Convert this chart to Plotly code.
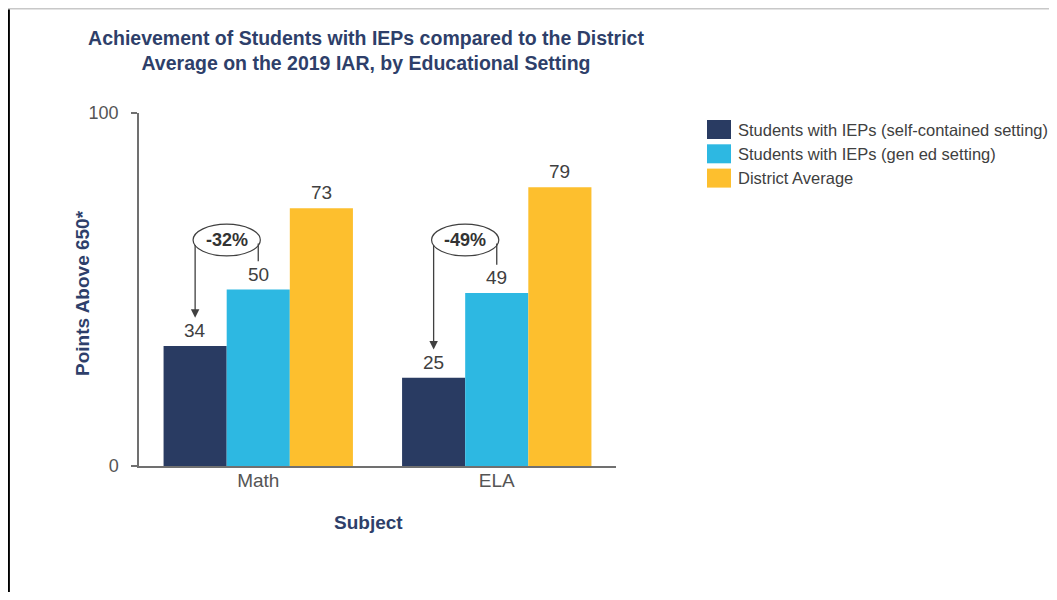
import plotly.graph_objects as go

categories = ["Math", "ELA"]
series_names = [
    "Students with IEPs (self-contained setting)",
    "Students with IEPs (gen ed setting)",
    "District Average",
]
self_contained = [34, 25]
gen_ed = [50, 49]
district_avg = [73, 79]
colors = ["#293b62", "#2db8e2", "#fdbf2e"]
y_ticks = [0, 100]

# page offset of the plot div (default body margin)
OFF = 8
W, H = 1057 - 2 * OFF, 600 - 2 * OFF
# plot area in screen pixels
PX0, PX1, PY0, PY1 = 139, 616, 113, 466
PW, PH = PX1 - PX0, PY1 - PY0
L, T = PX0 - OFF, PY0 - OFF
R, B = W - L - PW, H - T - PH

def px(sx):
    return (sx - PX0) / PW

def py(sy):
    return (PY1 - sy) / PH

FONT = "Liberation Sans, Arial, sans-serif"
NAVY = "#2e3f6a"
GRAY = "#555555"
DARK = "#404040"

bargap = 0.206
bw = (1 - bargap) / 3
offsets = [-bw, 0, bw]
series = [self_contained, gen_ed, district_avg]
xs = list(range(len(categories)))

fig = go.Figure()
for name, vals, col in zip(series_names, series, colors):
    fig.add_trace(go.Bar(x=xs, y=vals, name=name, marker=dict(color=col, line=dict(width=0)),
                         showlegend=False))

annotations = []
shapes = []

# value labels
for vals, off in zip(series, offsets):
    for xi, v in zip(xs, vals):
        annotations.append(dict(x=xi + off, y=v, xref="x", yref="y", text=str(v), showarrow=False,
                                xanchor="center", yanchor="bottom", yshift=3,
                                font=dict(family=FONT, size=19, color=DARK)))

# difference callouts
ANN_Y = 64
for xi, a, b in zip(xs, self_contained, gen_ed):
    pct = round((a - b) / b * 100)
    xl = xi + offsets[0]
    xr = xi + offsets[1]
    xc = (xl + xr) / 2
    shapes.append(dict(type="circle", xref="x", yref="y", x0=xc - 0.141, x1=xc + 0.141,
                       y0=ANN_Y - 4.5, y1=ANN_Y + 4.5, line=dict(color=DARK, width=1.2),
                       fillcolor="rgba(0,0,0,0)", layer="above"))
    annotations.append(dict(x=xc, y=ANN_Y, xref="x", yref="y", text=f"<b>{pct}%</b>", showarrow=False,
                            xanchor="center", yanchor="middle",
                            font=dict(family=FONT, size=18, color="#333333")))
    shapes.append(dict(type="line", xref="x", yref="y", x0=xr, x1=xr, y0=ANN_Y - 1, y1=b + 8,
                       line=dict(color=DARK, width=1.3)))
    annotations.append(dict(x=xl, y=a + 8, ax=xl, ay=ANN_Y - 1, xref="x", yref="y", axref="x", ayref="y",
                            text="", showarrow=True, arrowhead=2, arrowsize=1.3, arrowwidth=1.3,
                            arrowcolor=DARK))

# axis titles
annotations.append(dict(x=px(82), y=py(293), xref="paper", yref="paper", text="<b>Points Above 650*</b>",
                        textangle=-90, showarrow=False, xanchor="center", yanchor="middle",
                        font=dict(family=FONT, size=19, color=NAVY)))
annotations.append(dict(x=px(368), y=py(522), xref="paper", yref="paper", text="<b>Subject</b>",
                        showarrow=False, xanchor="center", yanchor="middle",
                        font=dict(family=FONT, size=19, color=NAVY)))

# legend
for i, (name, col) in enumerate(zip(series_names, colors)):
    cy = 129.5 + i * 24.3
    shapes.append(dict(type="rect", xref="paper", yref="paper",
                       x0=px(707), x1=px(731), y0=py(cy + 9.5), y1=py(cy - 9.5),
                       fillcolor=col, line=dict(width=0)))
    annotations.append(dict(x=px(736), y=py(cy), xref="paper", yref="paper", text=name,
                            xanchor="left", yanchor="middle", showarrow=False,
                            font=dict(family=FONT, size=16.5, color=DARK)))

# frame lines
shapes.append(dict(type="line", xref="paper", yref="paper", x0=px(8.9), x1=px(8.9),
                   y0=py(8), y1=py(600), line=dict(color="#000000", width=2)))
shapes.append(dict(type="line", xref="paper", yref="paper", x0=px(8), x1=px(1056),
                   y0=py(8.7), y1=py(8.7), line=dict(color="#c8c8c8", width=1.5)))

fig.update_layout(
    width=W, height=H,
    margin=dict(l=L, r=R, t=T, b=B),
    paper_bgcolor="white", plot_bgcolor="white",
    barmode="group", bargap=bargap, bargroupgap=0,
    title=dict(text="<b>Achievement of Students with IEPs compared to the District<br>Average on the 2019 IAR, by Educational Setting</b>",
               x=(366 - OFF) / W, xref="container", xanchor="center",
               y=1 - (45 - OFF) / H, yref="container", yanchor="middle",
               font=dict(family=FONT, size=19.5, color=NAVY)),
    xaxis=dict(range=[-0.5, 1.5], tickvals=xs, ticktext=categories, showline=True, linecolor="#707070",
               linewidth=2, ticks="", showgrid=False, zeroline=False, ticklabelstandoff=-4,
               tickfont=dict(family=FONT, size=19, color=GRAY)),
    yaxis=dict(range=[0, 100], tickvals=y_ticks, showline=True, linecolor="#707070", linewidth=1.5,
               ticks="outside", ticklen=6, tickcolor="#707070", tickwidth=1.5, showgrid=False, zeroline=False,
               ticklabelstandoff=9, tickfont=dict(family=FONT, size=18, color=GRAY)),
    shapes=shapes, annotations=annotations,
)

fig.write_html("out.html")
